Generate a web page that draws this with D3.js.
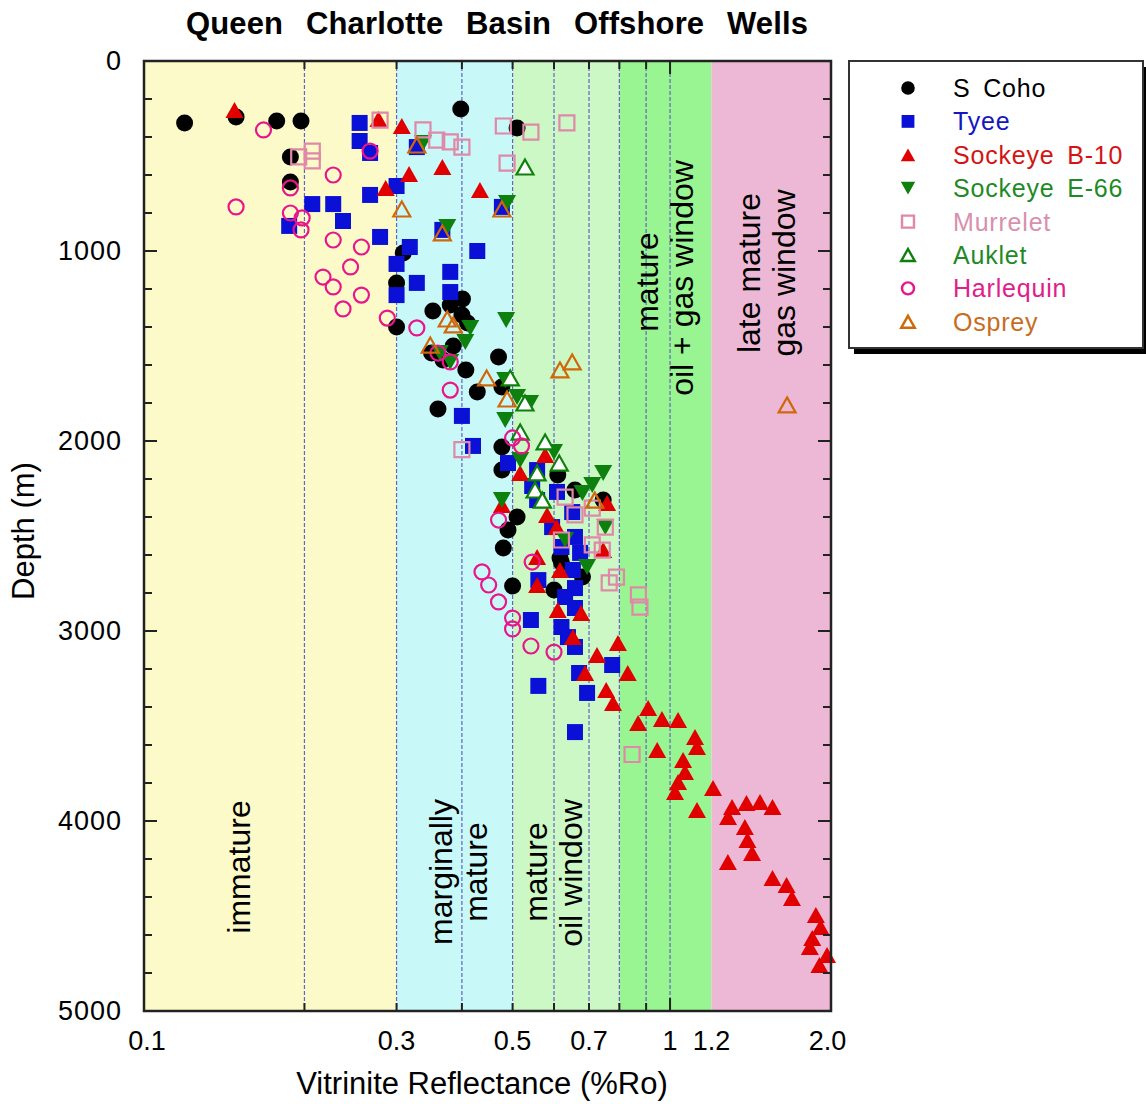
<!DOCTYPE html>
<html>
<head>
<meta charset="utf-8">
<script src="https://cdn.jsdelivr.net/npm/d3@7"></script>
<style>
  body { margin: 0; background: #ffffff; }
  text { font-family: "Liberation Sans", Arial, Helvetica, sans-serif; fill: #000; }
</style>
</head>
<body>
<svg id="chart" width="1146" height="1104"></svg>
<script>
// ---- Vitrinite reflectance (%Ro) vs depth (m), Queen Charlotte Basin offshore wells ----
const sCoho = [
  [0.118,326],[0.148,295],[0.177,316],[0.197,316],[0.188,505],[0.188,637],[0.398,253],[0.51,353],
  [0.309,1010],[0.30,1168],[0.30,1400],[0.401,1253],[0.38,1284],[0.352,1316],[0.40,1337],[0.41,1379],
  [0.385,1500],[0.35,1537],[0.368,1574],[0.407,1626],[0.428,1742],[0.36,1832],[0.47,1558],[0.477,1716],
  [0.477,2032],[0.477,2153],[0.61,2179],[0.658,2258],[0.745,2311],[0.51,2400],[0.49,2468],[0.48,2563],
  [0.616,2616],[0.62,2640],[0.68,2716],[0.50,2763],[0.60,2784]
];
const tyee = [
  [0.255,326],[0.255,421],[0.267,484],[0.207,753],[0.227,753],[0.237,842],[0.187,868],[0.267,705],
  [0.30,658],[0.279,926],[0.318,979],[0.30,1068],[0.328,1168],[0.30,1232],[0.38,1110],[0.38,1216],
  [0.428,1000],[0.40,1868],[0.42,2026],[0.328,453],[0.477,768],[0.367,889],
  [0.49,2116],[0.557,2153],[0.545,2237],[0.557,2311],[0.608,2268],[0.65,2374],[0.595,2453],[0.658,2505],
  [0.62,2558],[0.673,2589],[0.652,2679],[0.658,2774],[0.63,2821],[0.658,2879],[0.56,2732],[0.542,2942],
  [0.62,2979],[0.638,3032],[0.658,3084],[0.775,3179],[0.67,3221],[0.694,3326],[0.56,3289],[0.658,3532]
];
const sockeyeB10 = [
  [0.147,258],[0.277,305],[0.307,342],[0.367,558],[0.317,595],[0.286,668],[0.433,679],
  [0.577,2074],[0.517,2168],[0.477,2337],[0.582,2389],[0.607,2453],[0.758,2326],[0.745,2574],
  [0.557,2610],[0.616,2679],[0.557,2758],[0.61,2889],[0.676,2905],[0.652,3032],[0.725,3126],[0.795,3063],
  [0.83,3221],[0.688,3221],[0.755,3311],[0.778,3379],[0.908,3405],[0.869,3484],[0.965,3463],[0.945,3626],
  [1.036,3468],[1.116,3558],[1.126,3611],[1.059,3679],[1.068,3742],[1.036,3795],[1.022,3847],[1.208,3826],
  [1.126,3942],[1.314,3926],[1.291,3979],[1.40,3905],[1.486,3900],[1.57,3926],[1.39,4032],[1.406,4100],
  [1.435,4168],[1.29,4216],[1.57,4300],[1.67,4337],[1.71,4405],[1.90,4495],[1.94,4558],[1.87,4616],
  [1.85,4663],[1.996,4705],[1.93,4758]
];
const sockeyeE66 = [
  [0.337,432],[0.375,874],[0.488,747],[0.486,1363],[0.415,1405],[0.406,1479],[0.363,1537],[0.38,1584],
  [0.484,1679],[0.51,1768],[0.54,1800],[0.484,1889],[0.517,2100],[0.60,2058],[0.477,2311],[0.63,2521],
  [0.68,2274],[0.71,2232],[0.745,2168],[0.752,2453],[0.694,2663]
];
const murrelet = [
  [0.279,311],[0.337,363],[0.358,416],[0.38,426],[0.40,453],[0.195,505],[0.207,474],[0.207,526],
  [0.48,342],[0.542,374],[0.488,537],[0.635,326],[0.40,2045],
  [0.63,2295],[0.658,2389],[0.71,2353],[0.752,2453],[0.742,2574],[0.71,2547],[0.62,2521],
  [0.79,2716],[0.765,2747],[0.87,2810],[0.876,2874],[0.846,3650]
];
const auklet = [
  [0.528,558],[0.495,1668],[0.528,1800],[0.517,1953],[0.577,2005],[0.614,2116],[0.557,2168],
  [0.552,2258],[0.57,2311]
];
const harlequin = [
  [0.167,363],[0.148,768],[0.267,474],[0.227,600],[0.188,668],[0.188,800],[0.198,826],[0.197,889],
  [0.227,942],[0.257,979],[0.245,1084],[0.217,1137],[0.227,1189],[0.257,1232],[0.237,1305],[0.288,1353],
  [0.328,1405],[0.36,1537],[0.38,1584],[0.38,1732],[0.50,1984],[0.52,2026],[0.47,2416],
  [0.545,2637],[0.437,2689],[0.45,2758],[0.47,2847],[0.50,2932],[0.50,2989],[0.542,3079],[0.60,3111]
];
const osprey = [
  [0.328,442],[0.307,779],[0.367,905],[0.477,779],[0.375,1358],[0.385,1389],[0.348,1495],[0.446,1668],
  [0.488,1779],[0.616,1626],[0.65,1584],[0.718,2311],[1.674,1810]
];

// maturity zones (Ro bounds)
const zoneBounds = [[0.1,0.3],[0.3,0.5],[0.5,0.8],[0.8,1.2],[1.2,2.0]];
const zoneColors = ["#fcfac8","#c8f8f8","#ccf8c6","#99f592","#edb8d6"];
const gridValues = [0.2,0.3,0.4,0.5,0.6,0.7,0.8,0.9,1.0];
const xTickValues = [0.1,0.3,0.5,0.7,1,1.2,2.0];
const xTickLabels = ["0.1","0.3","0.5","0.7","1","1.2","2.0"];
const yTickValues = [0,1000,2000,3000,4000,5000];

const svg = d3.select("#chart");
const frame = {left: 144, right: 831, top: 61, bottom: 1011};

const x = d3.scaleLog().domain([0.1, 2.0]).range([147, 827.5]);
const y = d3.scaleLinear().domain([0, 5000]).range([frame.top, frame.bottom]);

// zone backgrounds
svg.append("g").selectAll("rect").data(zoneBounds).join("rect")
  .attr("x", (d, i) => i === 0 ? frame.left : x(d[0]))
  .attr("width", (d, i) => (i === zoneBounds.length - 1 ? frame.right : x(d[1])) - (i === 0 ? frame.left : x(d[0])))
  .attr("y", frame.top).attr("height", frame.bottom - frame.top)
  .attr("fill", (d, i) => zoneColors[i]);

// dashed reflectance grid lines
svg.append("g").selectAll("line").data(gridValues).join("line")
  .attr("x1", d => x(d)).attr("x2", d => x(d))
  .attr("y1", frame.top).attr("y2", frame.bottom)
  .attr("stroke", "#6464c4").attr("stroke-width", 1.2).attr("stroke-dasharray", "4,2");

// zone annotations (rotated)
const zoneText = [
  {t: "immature", bx: 250, cy: 867},
  {t: "marginally", bx: 452, cy: 872},
  {t: "mature", bx: 487, cy: 872},
  {t: "mature", bx: 547, cy: 872},
  {t: "oil window", bx: 582, cy: 873},
  {t: "mature", bx: 658, cy: 282},
  {t: "oil + gas window", bx: 693, cy: 278},
  {t: "late mature", bx: 760, cy: 273},
  {t: "gas window", bx: 795, cy: 273}
];
svg.append("g").selectAll("text").data(zoneText).join("text")
  .attr("transform", d => `translate(${d.bx},${d.cy}) rotate(-90)`)
  .attr("text-anchor", "middle")
  .style("font-size", "32px")
  .text(d => d.t);

// marker shapes
const shapes = {
  circle: s => `M${-8.5*s},0a${8.5*s},${8.5*s} 0 1,0 ${17*s},0a${8.5*s},${8.5*s} 0 1,0 ${-17*s},0Z`,
  square: s => `M${-8*s},${-8*s}h${16*s}v${16*s}h${-16*s}Z`,
  triUp: s => `M0,${-8*s}L${9*s},${8*s}L${-9*s},${8*s}Z`,
  triDown: s => `M0,${8*s}L${9*s},${-8*s}L${-9*s},${-8*s}Z`,
  openSquare: s => `M${-7.5*s},${-7.5*s}h${15*s}v${15*s}h${-15*s}Z`,
  openCircle: s => `M${-7.5*s},0a${7.5*s},${7.5*s} 0 1,0 ${15*s},0a${7.5*s},${7.5*s} 0 1,0 ${-15*s},0Z`,
  openTri: s => `M0,${-7.5*s}L${8.5*s},${7.5*s}L${-8.5*s},${7.5*s}Z`
};

const series = [
  {name: "S Coho",       data: sCoho,      shape: "circle",     fill: "#000000", stroke: "none",    text: "#000000"},
  {name: "Tyee",         data: tyee,       shape: "square",     fill: "#0a10d6", stroke: "none",    text: "#1616c0"},
  {name: "Sockeye B-10", data: sockeyeB10, shape: "triUp",      fill: "#e00000", stroke: "none",    text: "#d41414"},
  {name: "Sockeye E-66", data: sockeyeE66, shape: "triDown",    fill: "#0e800e", stroke: "none",    text: "#1e8a26"},
  {name: "Murrelet",     data: murrelet,   shape: "openSquare", fill: "none",    stroke: "#e088a8", text: "#d890ad"},
  {name: "Auklet",       data: auklet,     shape: "openTri",    fill: "#ffffff", stroke: "#0e800e", text: "#1e8a26"},
  {name: "Harlequin",    data: harlequin,  shape: "openCircle", fill: "none",    stroke: "#e8168a", text: "#e0208a"},
  {name: "Osprey",       data: osprey,     shape: "openTri",    fill: "none",    stroke: "#d0680a", text: "#c86c1e"}
];

const pts = svg.append("g");
series.forEach(s => {
  pts.append("g").selectAll("path").data(s.data).join("path")
    .attr("transform", d => `translate(${x(d[0])},${y(d[1])})`)
    .attr("d", shapes[s.shape](1))
    .attr("fill", s.fill)
    .attr("stroke", s.stroke)
    .attr("stroke-width", 2.2);
});

// frame
svg.append("rect")
  .attr("x", frame.left).attr("y", frame.top)
  .attr("width", frame.right - frame.left).attr("height", frame.bottom - frame.top)
  .attr("fill", "none").attr("stroke", "#222").attr("stroke-width", 2.5);

// x ticks (top and bottom, inward)
const xt = svg.append("g").attr("stroke", "#222").attr("stroke-width", 2);
gridValues.forEach(v => {
  const len = v === 1.0 ? 13 : 8;
  xt.append("line").attr("x1", x(v)).attr("x2", x(v)).attr("y1", frame.bottom).attr("y2", frame.bottom - len);
  xt.append("line").attr("x1", x(v)).attr("x2", x(v)).attr("y1", frame.top).attr("y2", frame.top + len);
});

// y ticks (left and right, inward)
const yt = svg.append("g").attr("stroke", "#222").attr("stroke-width", 2);
d3.range(0, 5001, 200).forEach(v => {
  const len = v % 1000 === 0 ? 13 : 8;
  yt.append("line").attr("x1", frame.left).attr("x2", frame.left + len).attr("y1", y(v)).attr("y2", y(v));
  yt.append("line").attr("x1", frame.right).attr("x2", frame.right - len).attr("y1", y(v)).attr("y2", y(v));
});

// tick labels
svg.append("g").selectAll("text").data(xTickValues).join("text")
  .attr("x", d => x(d)).attr("y", 1050)
  .attr("text-anchor", "middle")
  .style("font-size", "27px")
  .text((d, i) => xTickLabels[i]);

svg.append("g").selectAll("text").data(yTickValues).join("text")
  .attr("x", 122).attr("y", d => y(d))
  .attr("text-anchor", "end").attr("dominant-baseline", "central")
  .style("font-size", "27px").style("letter-spacing", "1px")
  .text(d => d);

// axis titles
svg.append("text")
  .attr("x", 482).attr("y", 1094).attr("text-anchor", "middle")
  .style("font-size", "31px")
  .text("Vitrinite Reflectance (%Ro)");

svg.append("text")
  .attr("transform", "translate(34,531) rotate(-90)")
  .attr("text-anchor", "middle")
  .style("font-size", "31px")
  .text("Depth (m)");

// chart title
svg.append("text")
  .attr("x", 186).attr("y", 34)
  .attr("textLength", 622).attr("lengthAdjust", "spacing")
  .style("font-size", "31px").style("font-weight", "bold").style("word-spacing", "14px")
  .text("Queen Charlotte Basin Offshore Wells");

// legend with drop shadow
const lg = {x: 849, y: 61, w: 294, h: 287};
svg.append("rect").attr("x", lg.x + 5).attr("y", lg.y + 6).attr("width", lg.w).attr("height", lg.h).attr("fill", "#000");
svg.append("rect").attr("x", lg.x).attr("y", lg.y).attr("width", lg.w).attr("height", lg.h)
  .attr("fill", "#ffffff").attr("stroke", "#333").attr("stroke-width", 2);

const rows = svg.append("g").selectAll("g").data(series).join("g")
  .attr("transform", (d, i) => `translate(0,${88 + i * 33.4})`);
rows.append("path")
  .attr("transform", "translate(908,0)")
  .attr("d", d => shapes[d.shape](0.8))
  .attr("fill", d => d.fill)
  .attr("stroke", d => d.stroke)
  .attr("stroke-width", 2.4);
rows.append("text")
  .attr("x", 953).attr("dominant-baseline", "central")
  .style("font-size", "25px").style("letter-spacing", "0.8px").style("word-spacing", "5px")
  .style("fill", d => d.text)
  .text(d => d.name);
</script>
</body>
</html>
